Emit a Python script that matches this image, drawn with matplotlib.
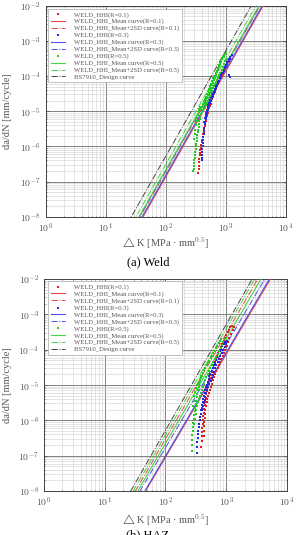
import numpy as np
import matplotlib
matplotlib.use('Agg')
import matplotlib.pyplot as plt
from matplotlib.ticker import LogLocator, FuncFormatter, NullFormatter

plt.rcParams['font.family'] = ['Liberation Serif', 'DejaVu Sans']
plt.rcParams['mathtext.fontset'] = 'cm'
plt.rcParams['mathtext.default'] = 'rm'

# ---- data: (delta K [MPa mm^0.5], da/dN [mm/cycle]) ----
weld_r1_dk = [350, 352, 355, 358, 362, 366, 370, 375, 381, 388, 396, 404, 412, 420, 428, 436,
              445, 455, 465, 476, 488, 500, 513, 527, 542, 558, 575, 595, 615, 640, 665, 690,
              720, 750, 785, 820, 860, 900, 945, 990, 1040, 1090,
              440, 452, 465, 478, 492, 508, 525, 545, 565, 588, 612, 638]
weld_r1_da = [1.8e-7, 2.2e-7, 2.8e-7, 3.6e-7, 4.5e-7, 5.5e-7, 6.6e-7, 7.8e-7, 9.2e-7, 1.1e-6,
              1.3e-6, 1.55e-6, 1.85e-6, 2.2e-6, 2.6e-6, 3.1e-6, 3.7e-6, 4.4e-6, 5.3e-6, 6.3e-6,
              7.5e-6, 8.9e-6, 1.05e-5, 1.22e-5, 1.42e-5, 1.65e-5, 1.9e-5, 2.2e-5, 2.6e-5, 3.05e-5,
              3.6e-5, 4.3e-5, 5.1e-5, 6.1e-5, 7.3e-5, 8.7e-5, 1.04e-4, 1.24e-4, 1.48e-4, 1.76e-4,
              2.1e-4, 2.5e-4,
              5.0e-6, 6.2e-6, 7.5e-6, 9.0e-6, 1.08e-5, 1.28e-5, 1.5e-5, 1.78e-5, 2.1e-5, 2.5e-5,
              2.95e-5, 3.5e-5]

weld_r3_dk = [398, 400, 403, 406, 410, 414, 418, 422, 426, 430, 436, 442, 448, 455, 462, 470,
              480, 490, 502, 515, 530, 548, 565, 585, 605, 630, 655, 685, 715, 745, 780, 815,
              850, 890, 930, 975, 1020, 1070, 1120, 1180,
              455, 468, 482, 498, 515, 535, 556, 578, 602, 628, 655, 685, 715, 750, 785, 825,
              865, 910, 955, 1005, 1060, 1120, 1180, 1250, 1170, 1120]
weld_r3_da = [4.0e-7, 4.8e-7, 5.8e-7, 7.0e-7, 8.5e-7, 1.0e-6, 1.25e-6, 1.5e-6, 1.85e-6, 2.3e-6,
              2.8e-6, 3.4e-6, 4.2e-6, 5.0e-6, 6.0e-6, 7.0e-6, 8.2e-6, 9.5e-6, 1.1e-5, 1.28e-5,
              1.5e-5, 1.75e-5, 2.0e-5, 2.35e-5, 2.75e-5, 3.2e-5, 3.8e-5, 4.5e-5, 5.3e-5, 6.2e-5,
              7.3e-5, 8.6e-5, 1.0e-4, 1.2e-4, 1.4e-4, 1.65e-4, 1.95e-4, 2.3e-4, 2.7e-4, 3.1e-4,
              6.5e-6, 8.0e-6, 9.8e-6, 1.2e-5, 1.45e-5, 1.75e-5, 2.1e-5, 2.5e-5, 3.0e-5, 3.6e-5,
              4.3e-5, 5.1e-5, 6.1e-5, 7.3e-5, 8.7e-5, 1.04e-4, 1.24e-4, 1.48e-4, 1.76e-4, 2.1e-4,
              2.5e-4, 3.0e-4, 3.5e-4, 3.9e-4, 9.5e-5, 1.1e-4]

weld_r5_dk = [290, 292, 295, 298, 300, 303, 306, 310, 314, 318, 322, 326, 330, 335, 340, 346,
              352, 358, 365, 372, 380, 390, 400, 412, 425, 438, 452, 468, 485, 502, 520, 540,
              560, 582, 605, 630, 655, 680, 708, 738, 770, 805, 840, 880, 920, 970, 1020,
              395, 410, 420, 440, 455, 470, 490, 510, 530, 555, 575, 600, 625, 650, 680, 710,
              740, 775, 810, 850, 890, 935,
              445, 465, 485, 505, 525, 548, 570, 595, 620, 650, 680, 710, 745, 780, 815, 855,
              895, 940, 985, 1035,
              300, 305, 312, 318, 325, 333, 342, 352, 362, 375]
weld_r5_da = [2.0e-7, 2.3e-7, 2.8e-7, 3.4e-7, 4.0e-7, 4.8e-7, 5.8e-7, 7.0e-7, 8.5e-7, 1.0e-6,
              1.2e-6, 1.45e-6, 1.75e-6, 2.1e-6, 2.5e-6, 3.0e-6, 3.6e-6, 4.3e-6, 5.1e-6, 6.0e-6,
              7.0e-6, 8.2e-6, 9.5e-6, 1.1e-5, 1.3e-5, 1.5e-5, 1.75e-5, 2.05e-5, 2.4e-5, 2.8e-5,
              3.3e-5, 3.9e-5, 4.6e-5, 5.4e-5, 6.4e-5, 7.6e-5, 9.0e-5, 1.07e-4, 1.27e-4, 1.5e-4,
              1.78e-4, 2.1e-4, 2.5e-4, 2.95e-4, 3.5e-4, 4.1e-4, 4.6e-4,
              1.05e-5, 1.3e-5, 1.55e-5, 1.9e-5, 2.2e-5, 2.6e-5, 3.1e-5, 3.7e-5, 4.4e-5, 5.2e-5,
              6.1e-5, 7.2e-5, 8.5e-5, 1.0e-4, 1.2e-4, 1.42e-4, 1.7e-4, 2.0e-4, 2.4e-4, 2.85e-4,
              3.4e-4, 4.0e-4,
              1.2e-5, 1.45e-5, 1.7e-5, 2.0e-5, 2.35e-5, 2.75e-5, 3.2e-5, 3.8e-5, 4.5e-5, 5.3e-5,
              6.3e-5, 7.5e-5, 8.8e-5, 1.05e-4, 1.25e-4, 1.5e-4, 1.8e-4, 2.15e-4, 2.6e-4, 3.1e-4,
              1.6e-6, 2.2e-6, 3.0e-6, 4.0e-6, 5.2e-6, 6.5e-6, 8.0e-6, 9.8e-6, 1.15e-5, 1.35e-5]

haz_r1_dk = [390, 393, 396, 400, 405, 410, 416, 422, 428, 435, 442, 450, 458, 468, 478, 490,
             505, 520, 538, 556, 578, 600, 625, 650, 680, 710, 745, 780, 820, 860, 905, 950,
             1000, 1050, 1110, 1170, 1250,
             440, 450, 462, 475, 490, 505, 522, 540, 560, 580, 605, 630, 658, 688, 720, 755,
             790, 830, 870, 915, 960, 1010, 1060, 1120, 1190, 1270, 1350,
             425, 430, 433, 437, 440]
haz_r1_da = [1.8e-7, 2.6e-7, 3.5e-7, 4.6e-7, 6.0e-7, 7.8e-7, 1.0e-6, 1.3e-6, 1.65e-6, 2.1e-6,
             2.7e-6, 3.4e-6, 4.3e-6, 5.4e-6, 6.8e-6, 8.5e-6, 1.05e-5, 1.3e-5, 1.6e-5, 1.95e-5,
             2.4e-5, 2.95e-5, 3.6e-5, 4.4e-5, 5.4e-5, 6.6e-5, 8.0e-5, 9.8e-5, 1.2e-4, 1.45e-4,
             1.75e-4, 2.1e-4, 2.55e-4, 3.1e-4, 3.7e-4, 4.3e-4, 4.6e-4,
             1.5e-6, 2.0e-6, 2.6e-6, 3.3e-6, 4.1e-6, 5.0e-6, 6.1e-6, 7.4e-6, 9.0e-6, 1.1e-5,
             1.35e-5, 1.65e-5, 2.0e-5, 2.45e-5, 3.0e-5, 3.7e-5, 4.5e-5, 5.5e-5, 6.7e-5, 8.2e-5,
             1.0e-4, 1.25e-4, 1.6e-4, 2.1e-4, 2.8e-4, 3.6e-4, 4.5e-4,
             3.5e-7, 5.0e-7, 7.0e-7, 9.0e-7, 1.2e-6]

haz_r3_dk = [326, 330, 334, 338, 342, 347, 352, 358, 364, 370, 377, 384, 392, 400, 409, 418,
             428, 440, 452, 465, 480, 496, 512, 530, 550, 572, 595, 620, 648, 678, 710, 745,
             780, 820, 865, 910, 960, 1010,
             400, 412, 425, 440, 455, 472, 490, 510, 530, 552, 575, 600, 628, 658, 690, 725,
             760, 800, 845, 890, 940, 990, 1040]
haz_r3_da = [1.2e-7, 1.8e-7, 2.5e-7, 3.2e-7, 4.0e-7, 5.0e-7, 6.3e-7, 8.0e-7, 1.0e-6, 1.25e-6,
             1.55e-6, 1.9e-6, 2.3e-6, 2.8e-6, 3.4e-6, 4.1e-6, 5.0e-6, 6.0e-6, 7.2e-6, 8.6e-6,
             1.03e-5, 1.23e-5, 1.47e-5, 1.75e-5, 2.1e-5, 2.5e-5, 3.0e-5, 3.6e-5, 4.3e-5, 5.2e-5,
             6.2e-5, 7.4e-5, 8.9e-5, 1.05e-4, 1.25e-4, 1.45e-4, 1.65e-4, 1.8e-4,
             2.0e-6, 2.5e-6, 3.1e-6, 3.8e-6, 4.7e-6, 5.8e-6, 7.1e-6, 8.7e-6, 1.06e-5, 1.3e-5,
             1.6e-5, 1.95e-5, 2.4e-5, 2.95e-5, 3.6e-5, 4.4e-5, 5.4e-5, 6.6e-5, 8.0e-5, 9.8e-5,
             1.2e-4, 1.45e-4, 1.7e-4]

haz_r5_dk = [269, 272, 275, 278, 281, 285, 289, 293, 298, 303, 308, 314, 320, 327, 334, 342,
             350, 360, 372, 385, 400, 416, 434, 454, 476, 500, 525, 552, 580, 610, 642, 676,
             712, 750, 790, 835,
             300, 306, 312, 320, 330, 340, 352, 365, 380, 395, 412, 430, 450, 472, 495, 520,
             548, 578, 610, 645, 680, 720, 760, 805, 850, 900, 955,
             285, 292, 300, 310, 322, 336, 352, 370, 390, 412]
haz_r5_da = [1.35e-7, 2.0e-7, 2.8e-7, 3.8e-7, 5.0e-7, 6.5e-7, 8.5e-7, 1.1e-6, 1.4e-6, 1.8e-6,
             2.3e-6, 2.9e-6, 3.6e-6, 4.5e-6, 5.6e-6, 7.0e-6, 8.6e-6, 1.05e-5, 1.28e-5, 1.55e-5,
             1.85e-5, 2.2e-5, 2.6e-5, 3.05e-5, 3.6e-5, 4.2e-5, 4.9e-5, 5.7e-5, 6.7e-5, 7.9e-5,
             9.3e-5, 1.1e-4, 1.3e-4, 1.52e-4, 1.78e-4, 2.05e-4,
             8.0e-7, 1.1e-6, 1.5e-6, 2.0e-6, 2.6e-6, 3.3e-6, 4.1e-6, 5.0e-6, 6.1e-6, 7.4e-6,
             9.0e-6, 1.1e-5, 1.35e-5, 1.65e-5, 2.0e-5, 2.45e-5, 3.0e-5, 3.65e-5, 4.4e-5, 5.3e-5,
             6.4e-5, 7.7e-5, 9.3e-5, 1.12e-4, 1.35e-4, 1.62e-4, 1.95e-4,
             2.5e-6, 3.5e-6, 4.8e-6, 6.3e-6, 8.0e-6, 1.0e-5, 1.25e-5, 1.5e-5, 1.8e-5, 2.15e-5]

# Paris law curves da/dN = C * dK^m : order R=0.1, 0.3, 0.5
weld_mean_C = [1.35e-13, 1.50e-13, 2.14e-13]
weld_mean_m = [3.0, 3.0, 3.0]
weld_2sd_C = [1.90e-13, 2.06e-13, 3.05e-13]
weld_2sd_m = [3.0, 3.0, 3.0]
haz_mean_C = [1.31e-13, 1.35e-13, 2.69e-13]
haz_mean_m = [2.92, 2.93, 2.96]
haz_2sd_C = [3.27e-13, 2.44e-13, 3.9e-13]
haz_2sd_m = [2.98, 2.92, 3.0]
bs_C = 5.21e-13
bs_m = 3.0

r_labels = ['0.1', '0.3', '0.5']
dot_colors = ['#e02020', '#2828e0', '#22cc22']
line_colors = ['#e04848', '#5050e8', '#44d444']

weld_dk = [weld_r1_dk, weld_r3_dk, weld_r5_dk]
weld_da = [weld_r1_da, weld_r3_da, weld_r5_da]
haz_dk = [haz_r1_dk, haz_r3_dk, haz_r5_dk]
haz_da = [haz_r1_da, haz_r3_da, haz_r5_da]

fig = plt.figure(figsize=(2.97, 5.35), dpi=100)
ax1 = fig.add_axes([0.1539, 0.5950, 0.8081, 0.3944])
ax2 = fig.add_axes([0.1481, 0.0822, 0.8182, 0.3963])

kk = np.logspace(0, 4, 200)


def draw(ax, dks, das, mC, mm, sC, sm, leg_anchor):
    handles = []
    for i in range(3):
        h1 = ax.scatter(dks[i], das[i], s=4.5, marker='s', color=dot_colors[i],
                        linewidths=0, zorder=4, label='WELD_HHI(R=%s)' % r_labels[i])
        h2, = ax.plot(kk, mC[i] * kk ** mm[i], '-', color=line_colors[i], lw=0.8, zorder=3,
                      label='WELD_HHI_Mean curve(R=%s)' % r_labels[i])
        h3, = ax.plot(kk, sC[i] * kk ** sm[i], '-.', color=line_colors[i], lw=0.7, zorder=3,
                      label='WELD_HHI_Mean+2SD curve(R=%s)' % r_labels[i])
        handles += [h1, h2, h3]
    h4, = ax.plot(kk, bs_C * kk ** bs_m, '-.', color='#444444', lw=0.7, zorder=3,
                  label='BS7910_Design curve')
    handles.append(h4)

    ax.set_xscale('log')
    ax.set_yscale('log')
    ax.set_xlim(1, 1e4)
    ax.set_ylim(1e-8, 1e-2)
    ax.xaxis.set_major_locator(LogLocator(base=10, numticks=10))
    ax.yaxis.set_major_locator(LogLocator(base=10, numticks=10))
    ax.xaxis.set_minor_locator(LogLocator(base=10, subs=np.arange(2, 10), numticks=20))
    ax.yaxis.set_minor_locator(LogLocator(base=10, subs=np.arange(2, 10), numticks=20))
    fmt = FuncFormatter(lambda v, p: r'$10^{%d}$' % int(round(np.log10(v))))
    ax.xaxis.set_major_formatter(fmt)
    ax.yaxis.set_major_formatter(fmt)
    ax.xaxis.set_minor_formatter(NullFormatter())
    ax.yaxis.set_minor_formatter(NullFormatter())
    ax.grid(True, which='major', color='#808080', lw=0.7)
    ax.grid(True, which='minor', color='#d0d0d0', lw=0.4)
    ax.set_axisbelow(True)
    ax.tick_params(which='both', direction='in', top=True, right=True, labelsize=7,
                   labelcolor='#555555', color='#555555', length=2, width=0.5)
    ax.tick_params(which='minor', length=1)
    for s in ax.spines.values():
        s.set_color('#444444')
        s.set_linewidth(0.7)
    ax.set_xlabel(r'$\triangle$K [MPa · mm$^{0.5}$]', fontsize=7.5, color='#555555')
    ax.set_ylabel('da/dN [mm/cycle]', fontsize=7.5, color='#555555')
    leg = ax.legend(handles=handles, loc='upper left', bbox_to_anchor=leg_anchor,
                    fontsize=4.8, labelspacing=0.14, borderpad=0.4, handlelength=2.2,
                    handletextpad=1.3, markerscale=0.8, fancybox=False, framealpha=1,
                    edgecolor='#aaaaaa', borderaxespad=0.0)
    leg.get_frame().set_linewidth(0.5)
    for t in leg.get_texts():
        t.set_color('#555555')


draw(ax1, weld_dk, weld_da, weld_mean_C, weld_mean_m, weld_2sd_C, weld_2sd_m, (0.01, 0.985))
draw(ax2, haz_dk, haz_da, haz_mean_C, haz_mean_m, haz_2sd_C, haz_2sd_m, (0.016, 0.99))

ax1.xaxis.set_label_coords(0.5, -0.09)
ax1.yaxis.set_label_coords(-0.14, 0.5)
ax2.xaxis.set_label_coords(0.5, -0.10)
ax2.yaxis.set_label_coords(-0.13, 0.5)

fig.text(148 / 297, 1 - 262 / 535, '(a) Weld', ha='center', va='center', fontsize=9)
fig.text(148 / 297, 6 / 535, '(b) HAZ', ha='center', va='top', fontsize=9)

fig.savefig('out.png', dpi=100)
